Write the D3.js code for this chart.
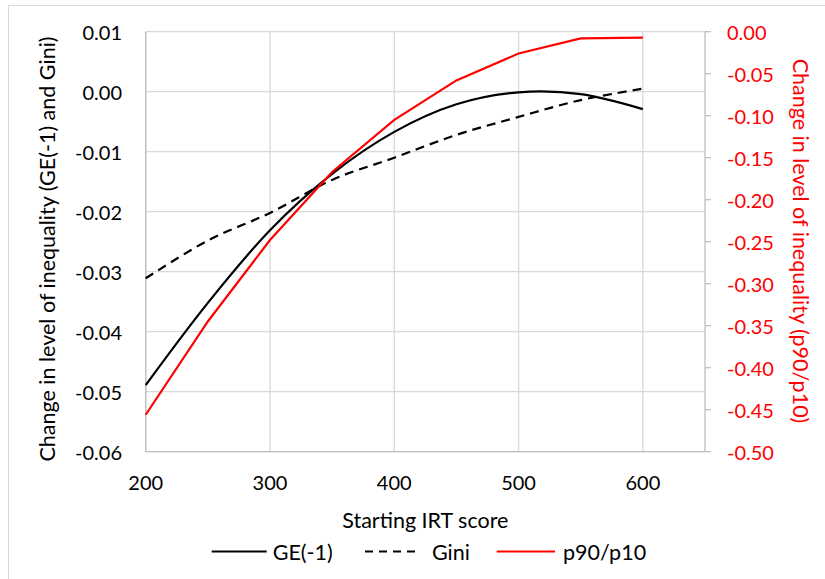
<!DOCTYPE html>
<html>
<head>
<meta charset="utf-8">
<script src="https://cdn.jsdelivr.net/npm/d3@7"></script>
<style>
  html, body { margin: 0; padding: 0; background: #fff; }
  text { font-family: Lato, "Open Sans", sans-serif; }
</style>
</head>
<body>
<svg id="chart" width="825" height="579"></svg>
<script>
// ---- data ----
const scores = [200, 250, 300, 350, 400, 450, 500, 550, 600];
const ge1 = [-0.0489, -0.0352, -0.0231, -0.0137, -0.0067, -0.0021, -0.0001, -0.0004, -0.0029];
const gini = [-0.0311, -0.0248, -0.0202, -0.0147, -0.0110, -0.0072, -0.0042, -0.0014, 0.0005];
const p9010 = [-0.456, -0.345, -0.248, -0.167, -0.105, -0.058, -0.026, -0.008, -0.007];
const xTicks = [200, 300, 400, 500, 600];
const leftTicks = [0.01, 0.00, -0.01, -0.02, -0.03, -0.04, -0.05, -0.06];
const rightTicks = [0, -0.05, -0.10, -0.15, -0.20, -0.25, -0.30, -0.35, -0.40, -0.45, -0.50];
const seriesNames = ["GE(-1)", "Gini", "p90/p10"];

// ---- layout ----
const svg = d3.select("#chart");
const L = 145.7, R = 705, T = 31.7, B = 451.7;
const x = d3.scaleLinear().domain([200, 650]).range([L, R]);
const yL = d3.scaleLinear().domain([-0.06, 0.01]).range([B, T]);
const yR = d3.scaleLinear().domain([-0.5, 0]).range([B, T]);
const FS = 20;     // tick labels
const FT = 21.5;   // titles and legend

// outer border
svg.append("rect").attr("x", 8.5).attr("y", 5.5).attr("width", 840).attr("height", 600)
  .attr("fill", "none").attr("stroke", "#d9d9d9").attr("stroke-width", 1);

// gridlines
const g = svg.append("g");
g.selectAll(".hg").data(leftTicks).join("line")
  .attr("x1", L).attr("x2", R)
  .attr("y1", d => yL(d)).attr("y2", d => yL(d))
  .attr("stroke", "#d9d9d9").attr("stroke-width", 1.3);
g.selectAll(".vg").data(xTicks).join("line")
  .attr("x1", d => x(d)).attr("x2", d => x(d))
  .attr("y1", T).attr("y2", B)
  .attr("stroke", "#d9d9d9").attr("stroke-width", 1.3);

// axes lines
svg.append("line").attr("x1", L).attr("x2", L).attr("y1", T).attr("y2", B)
  .attr("stroke", "#bfbfbf").attr("stroke-width", 1.3);
svg.append("line").attr("x1", L).attr("x2", R).attr("y1", B).attr("y2", B)
  .attr("stroke", "#bfbfbf").attr("stroke-width", 1.3);
svg.append("line").attr("x1", R).attr("x2", R).attr("y1", T).attr("y2", B)
  .attr("stroke", "#bfbfbf").attr("stroke-width", 1.3);

// right ticks
svg.selectAll(".rt").data(rightTicks).join("line")
  .attr("x1", R).attr("x2", R + 6)
  .attr("y1", d => yR(d)).attr("y2", d => yR(d))
  .attr("stroke", "#bfbfbf").attr("stroke-width", 1.3);

// left tick labels
svg.selectAll(".ll").data(leftTicks).join("text")
  .attr("x", 122).attr("y", d => yL(d))
  .attr("text-anchor", "end").attr("dominant-baseline", "central")
  .attr("font-size", FS).attr("fill", "#000")
  .text(d => d3.format(".2f")(d).replace("−", "-"));

// right tick labels
svg.selectAll(".rl").data(rightTicks).join("text")
  .attr("x", 727).attr("y", d => yR(d))
  .attr("text-anchor", "start").attr("dominant-baseline", "central")
  .attr("font-size", FS).attr("fill", "#ff0000")
  .text(d => d3.format(".2f")(d).replace("−", "-"));

// x tick labels
svg.selectAll(".xl").data(xTicks).join("text")
  .attr("x", d => x(d)).attr("y", 482)
  .attr("text-anchor", "middle").attr("dominant-baseline", "central")
  .attr("font-size", FS).attr("fill", "#000")
  .text(d => d);

// axis titles
svg.append("text").attr("transform", "translate(47," + 249 + ") rotate(-90)")
  .attr("text-anchor", "middle").attr("dominant-baseline", "central")
  .attr("font-size", FT).attr("fill", "#000")
  .text("Change in level of inequality (GE(-1) and Gini)");
svg.append("text").attr("transform", "translate(801," + 241 + ") rotate(90)")
  .attr("text-anchor", "middle").attr("dominant-baseline", "central")
  .attr("font-size", FT).attr("fill", "#ff0000")
  .text("Change in level of inequality (p90/p10)");
svg.append("text").attr("x", (L + R) / 2).attr("y", 520)
  .attr("text-anchor", "middle").attr("dominant-baseline", "central")
  .attr("font-size", FT).attr("fill", "#000")
  .text("Starting IRT score");

// series lines
const smooth = d3.curveCardinal.tension(0);
const lineL = (vals, curve) => d3.line().x((d, i) => x(scores[i])).y(d => yL(d)).curve(curve)(vals);
const lineR = (vals, curve) => d3.line().x((d, i) => x(scores[i])).y(d => yR(d)).curve(curve)(vals);

svg.append("path").attr("d", lineL(gini, smooth))
  .attr("fill", "none").attr("stroke", "#000").attr("stroke-width", 2.2)
  .attr("stroke-dasharray", "9,6");
svg.append("path").attr("d", lineL(ge1, smooth))
  .attr("fill", "none").attr("stroke", "#000").attr("stroke-width", 2.2);
svg.append("path").attr("d", lineR(p9010, d3.curveLinear))
  .attr("fill", "none").attr("stroke", "#ff0000").attr("stroke-width", 2.2);

// legend
const legY = 551.5;
const legend = [
  { name: seriesNames[0], x1: 211.7, x2: 266.7, tx: 272.7, color: "#000", dash: null },
  { name: seriesNames[1], x1: 365, x2: 420, tx: 432, color: "#000", dash: "8,6" },
  { name: seriesNames[2], x1: 496.7, x2: 555, tx: 563, color: "#ff0000", dash: null }
];
const lg = svg.selectAll(".leg").data(legend).join("g");
lg.append("line").attr("x1", d => d.x1).attr("x2", d => d.x2)
  .attr("y1", legY).attr("y2", legY)
  .attr("stroke", d => d.color).attr("stroke-width", 2.2)
  .attr("stroke-dasharray", d => d.dash);
lg.append("text").attr("x", d => d.tx).attr("y", legY)
  .attr("dominant-baseline", "central").attr("font-size", FT).attr("fill", "#000")
  .text(d => d.name);
</script>
</body>
</html>
